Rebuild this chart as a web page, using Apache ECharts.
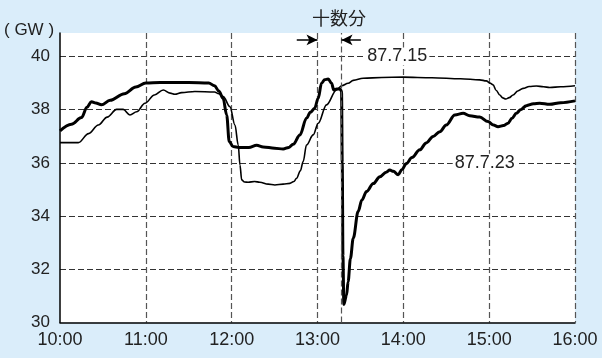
<!DOCTYPE html>
<html><head><meta charset="utf-8">
<script src="https://cdn.jsdelivr.net/npm/echarts@6/dist/echarts.min.js"></script>
<style>html,body{margin:0;padding:0;background:#daedfa}#c{width:602px;height:358px}</style>
</head><body><div id="c"></div>
<script>
// minutes after 10:00
const xTickLabels = ['10:00','11:00','12:00','13:00','14:00','15:00','16:00'];
const yTickValues = [30,32,34,36,38,40];
const unitLabel = '( GW )';
const noteLabel = '十数分';
const seriesNames = ['87.7.23','87.7.15'];

const times0723 = [0,8,15,19,22,25,29,35,45,53,60,70,90,104,108,111,114,116.5,118.3,121,125,132,137.5,142,150,156,160,163,167.7,172.3,175,178,180.5,182.8,185,187.5,189.8,191.4,193.5,195.6,196.8,197.3,197.8,198.4,200.3,201.4,203,205,208.4,211,214.3,219,223.6,228,230.5,233,236.4,239,242.2,246,251.5,256,260.8,265.5,270,276,281.8,286.4,293.4,299.2,303,306.2,310,313.2,316,319,322,326,331,335.3,342.3,350,360];
const values0723 = [37.2,37.45,37.7,38.1,38.3,38.25,38.18,38.35,38.6,38.85,39.0,39.02,39.02,39.0,38.9,38.7,38.43,37.8,36.8,36.61,36.58,36.58,36.66,36.6,36.55,36.52,36.58,36.7,37.05,37.68,37.9,38.05,38.43,38.99,39.12,39.15,38.99,38.74,38.78,38.78,38.7,36.0,32.5,30.68,31.03,31.53,32.4,33.17,34.17,34.6,34.92,35.22,35.48,35.65,35.73,35.68,35.55,35.75,35.98,36.2,36.49,36.75,36.99,37.17,37.42,37.8,37.86,37.77,37.72,37.55,37.42,37.36,37.4,37.49,37.68,37.86,38.0,38.15,38.22,38.24,38.2,38.26,38.33];

const times0715 = [0,12.8,20,26.8,33,39.6,44.2,48.9,53.6,59.4,66,72.2,77,80.3,85,94.3,108,111,114.1,118.8,122.3,124.6,125.8,127,129,131.5,136,139.7,145.5,150.2,156,160.7,163.5,165.4,168,170,172.3,177,180.5,186.3,193.3,197,201.4,205,211.9,225,239.8,260,280,293.4,298,300.5,302.7,305,307.4,309.5,311.6,314,316.7,320,323.7,328,333,338,342.3,350,360];
const values0715 = [36.76,36.76,37.1,37.42,37.72,38.01,38.01,37.8,37.92,38.24,38.55,38.74,38.62,38.58,38.64,38.68,38.66,38.6,38.49,38.11,37.42,36.67,35.92,35.36,35.28,35.27,35.3,35.27,35.2,35.17,35.2,35.23,35.3,35.42,35.7,36.05,36.67,37.05,37.49,38.18,38.74,38.9,38.99,39.1,39.18,39.21,39.22,39.2,39.16,39.12,39.08,39.0,38.93,38.72,38.55,38.44,38.4,38.45,38.55,38.7,38.8,38.87,38.89,38.86,38.83,38.86,38.9];

const markerTime = 196.8;          // the "十数分" end marker
const arrowLevel = 40.62;
const arrowRightward = [165.5, 180];
const arrowLeftward = [210.3, 196.8];
const label0715At = [235.8, 40];
const label0723At = [296.9, 36];

const pair = (t, v) => t.map((x, i) => [x, v[i]]);
const FONT = '"Liberation Sans", Arial, sans-serif';

const chart = echarts.init(document.getElementById('c'), null, {renderer: 'canvas'});
const gridDash = {color: '#333', width: 1.2, type: [6, 3]};
const vDash = {color: '#555', width: 1.2, type: [6, 3]};

const tagLabel = (txt) => ({
  show: true, position: 'inside', formatter: txt, color: '#222',
  fontFamily: FONT, fontSize: 18, backgroundColor: '#fff', padding: [0, 2]
});

chart.setOption({
  animation: false,
  backgroundColor: '#daedfa',
  grid: {left: 60, right: 27, top: 33, bottom: 35.5, show: true, backgroundColor: '#fff', borderWidth: 0},
  xAxis: {
    type: 'value', min: 0, max: 360, interval: 60,
    axisLine: {show: true, lineStyle: {color: '#000', width: 1.5}},
    axisTick: {show: false},
    axisLabel: {
      color: '#222', fontFamily: FONT, fontSize: 18, margin: 9,
      formatter: v => (v % 60 === 0 ? xTickLabels[v / 60] : '')
    },
    splitLine: {show: true, lineStyle: vDash, showMinLine: false, showMaxLine: true}
  },
  yAxis: {
    type: 'value', min: yTickValues[0], max: 40.88, interval: 2,
    axisLine: {show: true, lineStyle: {color: '#000', width: 1.5}},
    axisTick: {show: false},
    axisLabel: {
      color: '#222', fontFamily: FONT, fontSize: 17, margin: 10,
      formatter: v => (yTickValues.indexOf(v) >= 0 ? String(v) : ''),
      showMaxLabel: false
    },
    splitLine: {show: true, lineStyle: gridDash, showMinLine: false, showMaxLine: false}
  },
  graphic: [
    {type: 'text', left: 4, top: 22, style: {text: unitLabel, font: '17px ' + FONT, fill: '#222'}},
    {type: 'text', left: 312, top: 9, style: {text: noteLabel, font: '18px "Noto Sans CJK JP", sans-serif', fill: '#222'}}
  ],
  series: [
    {
      name: seriesNames[1], type: 'line', data: pair(times0715, values0715),
      showSymbol: false, smooth: 0.35, smoothMonotone: 'x',
      lineStyle: {color: '#000', width: 1.6}, z: 3,
      markPoint: {
        symbol: 'circle', symbolSize: 0, silent: true,
        data: [{coord: label0715At, label: tagLabel(seriesNames[1])},
               {coord: label0723At, label: tagLabel(seriesNames[0])}]
      },
      markLine: {
        silent: true, symbol: ['none', 'none'],
        label: {show: false},
        lineStyle: vDash,
        data: [
          {xAxis: markerTime},
          [{coord: [arrowRightward[0], arrowLevel], symbol: 'none'},
           {coord: [arrowRightward[1], arrowLevel], symbol: 'arrow', symbolSize: [8, 11],
            lineStyle: {type: 'solid', color: '#000', width: 1.5}}],
          [{coord: [arrowLeftward[0], arrowLevel], symbol: 'none'},
           {coord: [arrowLeftward[1], arrowLevel], symbol: 'arrow', symbolSize: [8, 11],
            lineStyle: {type: 'solid', color: '#000', width: 1.5}}]
        ]
      }
    },
    {
      name: seriesNames[0], type: 'line', data: pair(times0723, values0723),
      showSymbol: false, smooth: 0.35, smoothMonotone: 'x',
      lineStyle: {color: '#000', width: 3}, z: 4
    }
  ]
});
</script></body></html>
